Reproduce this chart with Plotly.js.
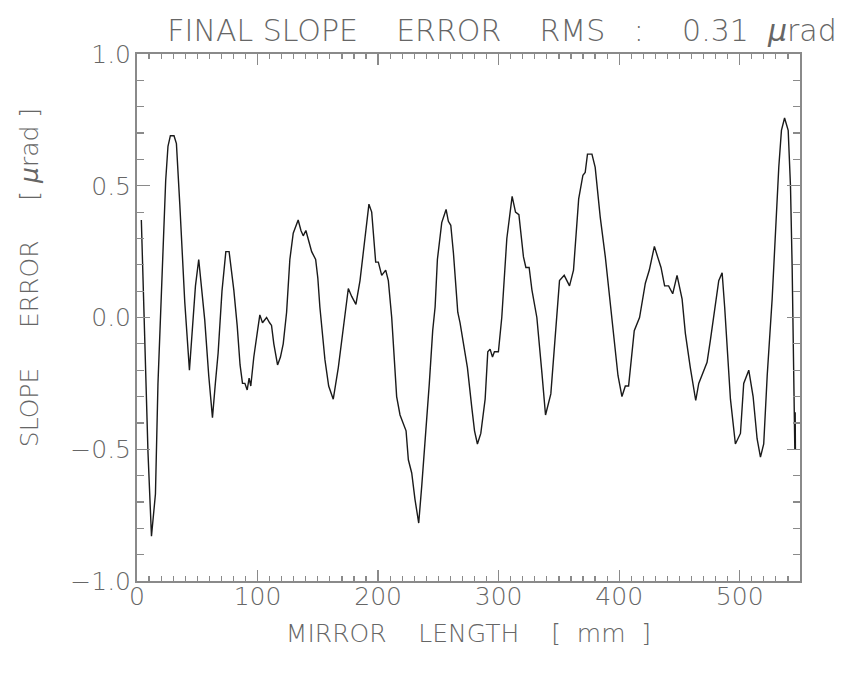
<!DOCTYPE html>
<html>
<head>
<meta charset="utf-8">
<script src="https://cdn.plot.ly/plotly-3.0.1.min.js"></script>
<style>html,body{margin:0;padding:0;background:#fff;}#chart{width:841px;height:673px;}</style>
</head>
<body>
<div id="chart"></div>
<script>
// Mirror position [mm]
const positionMm = [
  3.6, 6.4, 9.1, 12.0, 13.5, 15.3, 17.4, 20.2, 21.6, 23.8, 25.7, 27.7, 30.7, 32.7, 35.5, 39.6,
  43.5, 46.5, 48.5, 51.2, 53.5, 56.2, 59.5, 62.6, 65.0, 67.3, 70.5, 73.7, 76.4, 80.3, 83.1,
  85.5, 87.5, 89.5, 91.4, 93.0, 94.4, 96.9, 100.0, 101.9, 104.1, 107.5, 110.0, 111.6, 113.5,
  116.6, 119.0, 121.3, 124.1, 126.8, 129.6, 133.7, 136.0, 137.9, 140.1, 142.5, 144.9, 148.2,
  150.0, 151.7, 155.9, 159.0, 162.8, 167.0, 171.1, 175.3, 178.1, 181.6, 185.0, 189.1, 192.4,
  194.7, 198.0, 200.2, 203.0, 206.3, 208.5, 211.3, 212.6, 215.4, 218.2, 220.9, 223.2, 225.1,
  227.9, 230.6, 233.7, 236.2, 239.5, 242.5, 245.3, 247.3, 249.2, 252.8, 256.4, 258.3, 260.3,
  262.5, 265.3, 266.1, 268.0, 271.3, 274.1, 277.7, 280.0, 282.4, 285.2, 288.8, 291.0, 292.9,
  294.9, 296.5, 299.8, 302.6, 306.8, 311.2, 314.0, 316.8, 320.6, 322.6, 325.3, 327.6, 331.7,
  335.9, 338.9, 343.3, 345.5, 348.8, 350.5, 354.4, 358.8, 362.1, 366.4, 369.9, 371.8, 373.7,
  377.4, 380.1, 384.3, 388.5, 394.0, 395.3, 399.0, 402.3, 405.1, 407.8, 412.5, 416.9, 421.7,
  425.0, 429.2, 431.9, 434.7, 437.7, 441.0, 444.4, 448.0, 452.2, 454.9, 459.0, 463.5, 466.0,
  470.1, 472.9, 475.7, 479.0, 482.6, 485.4, 487.5, 492.3, 496.4, 500.6, 503.3, 507.5, 511.1,
  514.4, 517.2, 519.9, 522.8, 526.9, 529.7, 532.4, 534.6, 537.2, 540.2, 542.1, 543.5, 544.9,
  545.4, 545.7, 546.0, 546.2
];
// Slope error [µrad]
const slopeError = [
  0.37, -0.07, -0.51, -0.83, -0.75, -0.67, -0.25, 0.07, 0.30, 0.52, 0.65, 0.69, 0.69, 0.66, 0.43, 0.06,
  -0.20, -0.01, 0.12, 0.22, 0.10, -0.01, -0.22, -0.38, -0.25, -0.135, 0.10, 0.25, 0.25, 0.105, -0.03,
  -0.18, -0.25, -0.25, -0.275, -0.23, -0.26, -0.15, -0.05, 0.01, -0.02, 0.00, -0.02, -0.03, -0.10,
  -0.18, -0.15, -0.10, 0.02, 0.22, 0.32, 0.37, 0.33, 0.31, 0.33, 0.29, 0.25, 0.22,
  0.15, 0.04, -0.16, -0.26, -0.31, -0.19, -0.03, 0.11, 0.08, 0.05, 0.14, 0.30, 0.43,
  0.40, 0.21, 0.21, 0.16, 0.18, 0.14, 0.00, -0.10, -0.30, -0.37, -0.40, -0.43, -0.54,
  -0.59, -0.69, -0.78, -0.64, -0.44, -0.25, -0.05, 0.04, 0.22, 0.36, 0.41, 0.365, 0.35,
  0.245, 0.07, 0.02, -0.02, -0.12, -0.19, -0.34, -0.43, -0.48, -0.44, -0.31, -0.13, -0.12,
  -0.15, -0.13, -0.13, 0.00, 0.30, 0.46, 0.40, 0.39, 0.23, 0.19, 0.19, 0.105, 0.00,
  -0.21, -0.37, -0.29, -0.16, 0.07, 0.14, 0.16, 0.12, 0.18, 0.45, 0.54, 0.55, 0.62,
  0.62, 0.57, 0.38, 0.23, 0.00, -0.06, -0.22, -0.30, -0.26, -0.26, -0.05, 0.00, 0.13,
  0.18, 0.27, 0.23, 0.19, 0.12, 0.12, 0.09, 0.16, 0.07, -0.06, -0.19, -0.315, -0.25,
  -0.20, -0.17, -0.085, 0.03, 0.14, 0.17, 0.04, -0.31, -0.48, -0.44, -0.25, -0.20, -0.30,
  -0.46, -0.53, -0.48, -0.22, 0.07, 0.32, 0.57, 0.71, 0.757, 0.71, 0.50, 0.19, -0.19,
  -0.35, -0.50, -0.36, -0.50
];
const xTickVals = [0, 100, 200, 300, 400, 500];
const xTickText = ['0', '100', '200', '300', '400', '500'];
const yTickVals = [-1.0, -0.5, 0.0, 0.5, 1.0];
const yTickText = ['\u22121.0', '\u22120.5', '0.0', '0.5', '1.0'];

const sp = n => '\u00A0'.repeat(n);
const FONT = 'DejaVu Sans, sans-serif';
const GREY = '#666666';
const AXC = '#8a8a8a';

const trace = {
  x: positionMm, y: slopeError, type: 'scatter', mode: 'lines',
  line: {color: '#1a1a1a', width: 1.4}, hoverinfo: 'skip'
};

const axisCommon = {
  showgrid: false, zeroline: false, showline: true, linecolor: AXC, linewidth: 2,
  mirror: 'allticks', ticks: 'inside', tickcolor: AXC, tickwidth: 1.3,
  tickmode: 'array', fixedrange: true,
  tickfont: {family: FONT, size: 25, color: GREY, weight: 200}
};

const layout = {
  width: 841, height: 673,
  margin: {l: 137, r: 41, t: 54, b: 92, autoexpand: false},
  paper_bgcolor: '#ffffff', plot_bgcolor: '#ffffff',
  showlegend: false,
  title: {
    text: 'FINAL' + sp(1) + 'SLOPE' + sp(4) + 'ERROR' + sp(4) + 'RMS' + sp(3) + ':' + sp(4) + '0.31' + sp(2) + '<i>\u03BC</i>rad',
    font: {family: FONT, size: 30, color: GREY, weight: 200},
    xref: 'container', yref: 'container', x: 0.597, xanchor: 'center', y: 0.955, yanchor: 'middle'
  },
  xaxis: Object.assign({}, axisCommon, {
    range: [0, 550], tickvals: xTickVals, ticktext: xTickText, ticklen: 11,
    minor: {dtick: 10, ticks: 'inside', ticklen: 5, tickcolor: AXC, tickwidth: 1.2, showgrid: false},
    ticklabelstandoff: -8,
    title: {text: 'MIRROR' + sp(4) + 'LENGTH' + sp(4) + '[' + sp(2) + 'mm' + sp(2) + ']',
      font: {family: FONT, size: 25, color: GREY, weight: 200}, standoff: 14}
  }),
  yaxis: Object.assign({}, axisCommon, {
    range: [-1, 1], tickvals: yTickVals, ticktext: yTickText, ticklen: 13,
    minor: {dtick: 0.1, ticks: 'inside', ticklen: 7, tickcolor: AXC, tickwidth: 1.2, showgrid: false},
    ticklabelstandoff: -1
  }),
  annotations: [{
    text: 'SLOPE' + sp(5) + 'ERROR' + sp(5) + '[' + sp(1) + '<i>\u03BC</i>rad' + sp(1) + ']',
    font: {family: FONT, size: 25, color: GREY, weight: 200},
    textangle: -90, showarrow: false,
    xref: 'paper', yref: 'paper', x: -0.161, y: 0.575, xanchor: 'center', yanchor: 'middle'
  }]
};

Plotly.newPlot('chart', [trace], layout, {displayModeBar: false, staticPlot: true});
</script>
</body>
</html>
